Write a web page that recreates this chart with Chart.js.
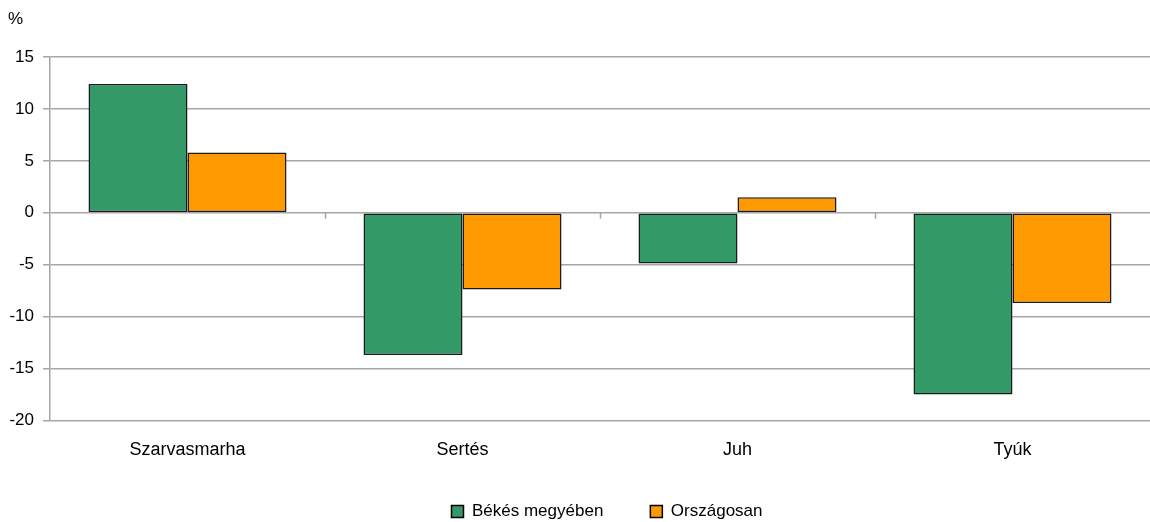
<!DOCTYPE html>
<html>
<head>
<meta charset="utf-8">
<script src="https://cdn.jsdelivr.net/npm/chart.js@4/dist/chart.umd.min.js"></script>
<style>
html,body{margin:0;padding:0;background:#fff;}
#wrap{width:1150px;height:522px;position:relative;}
</style>
</head>
<body>
<div id="wrap"><canvas id="c"></canvas></div>
<script>
const categories = ['Szarvasmarha', 'Sertés', 'Juh', 'Tyúk'];
const bekes = [12.4, -13.7, -4.9, -17.5];
const orszagosan = [5.8, -7.4, 1.5, -8.7];
const seriesNames = ['Békés megyében', 'Országosan'];
const yMin = -20, yMax = 15, yStep = 5;
const unitLabel = '%';

const FONT = "'Liberation Sans', Arial, sans-serif";

const extras = {
  id: 'extras',
  afterLayout(chart) {
    // pull the legend row up closer to the category labels, and nudge it right
    if (chart.legend) {
      chart.legend.top -= 24;
      chart.legend.bottom -= 24;
      chart.legend.left += 32;
      chart.legend.right += 32;
    }
  },
  afterDraw(chart) {
    const ctx = chart.ctx;
    const x = chart.scales.x, y = chart.scales.y;
    ctx.save();
    ctx.fillStyle = '#000';
    ctx.font = '17px ' + FONT;
    ctx.textAlign = 'left';
    ctx.textBaseline = 'middle';
    ctx.fillText(unitLabel, 8, 19);
    const y0 = y.getPixelForValue(0);
    ctx.strokeStyle = '#a6a6a6';
    ctx.lineWidth = 1.5;
    for (let i = 1; i < categories.length; i++) {
      const px = Math.round((x.getPixelForValue(i - 1) + x.getPixelForValue(i)) / 2) + 0.5;
      ctx.beginPath();
      ctx.moveTo(px, y0);
      ctx.lineTo(px, y0 + 6);
      ctx.stroke();
    }
    ctx.restore();
  }
};

new Chart(document.getElementById('c'), {
  type: 'bar',
  data: {
    labels: categories,
    datasets: [
      { label: seriesNames[0], data: bekes, backgroundColor: '#339966', borderColor: '#1a1a1a', borderWidth: 1.5, borderSkipped: false },
      { label: seriesNames[1], data: orszagosan, backgroundColor: '#FF9900', borderColor: '#1a1a1a', borderWidth: 1.5, borderSkipped: false }
    ]
  },
  options: {
    responsive: true,
    maintainAspectRatio: false,
    animation: false,
    datasets: { bar: { categoryPercentage: 0.72, barPercentage: 1.0 } },
    layout: { padding: { left: 0, right: 0, top: 57, bottom: -32 } },
    plugins: {
      legend: {
        position: 'bottom',
        labels: {
          font: { family: FONT, size: 17 },
          color: '#000',
          boxWidth: 12,
          boxHeight: 12,
          padding: 47,
          generateLabels(chart) {
            return chart.data.datasets.map((ds, i) => ({
              text: ds.label,
              fillStyle: ds.backgroundColor,
              strokeStyle: '#000',
              lineWidth: 1.5,
              datasetIndex: i,
              hidden: false
            }));
          }
        }
      },
      tooltip: { enabled: false },
      title: { display: false }
    },
    scales: {
      x: {
        grid: { display: false, drawTicks: false },
        border: { display: false },
        ticks: { font: { family: FONT, size: 18 }, color: '#000', padding: 19 }
      },
      y: {
        min: yMin, max: yMax,
        afterFit(scale) { scale.width = 50; },
        ticks: { stepSize: yStep, font: { family: FONT, size: 17 }, color: '#000', padding: 9 },
        grid: { color: '#a6a6a6', lineWidth: 1.5, tickLength: 7 },
        border: { display: true, color: '#a6a6a6', width: 1.5 }
      }
    }
  },
  plugins: [extras]
});
</script>
</body>
</html>
